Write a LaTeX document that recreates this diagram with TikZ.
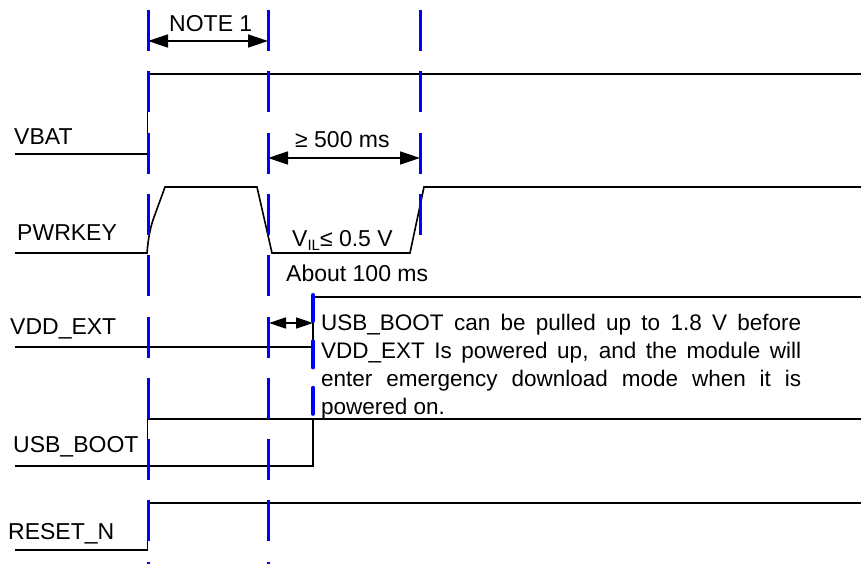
\documentclass[tikz,border=0pt]{standalone}
\usepackage{fontspec}
\setmainfont{Liberation Sans}
\usetikzlibrary{arrows.meta}
\tikzset{
  sig/.style={line width=1.6pt, black, line join=miter},
  guide/.style={blue, line width=3pt, dash pattern=on 41pt off 20.3pt},
  guidethick/.style={blue, line width=3.6pt, line cap=round, dash pattern=on 26.4pt off 20pt},
  dim/.style={line width=1.6pt, {Triangle[length=20pt,width=13pt]}-{Triangle[length=20pt,width=13pt]}},
  dimsmall/.style={line width=1.6pt, {Triangle[length=17pt,width=11pt]}-{Triangle[length=17pt,width=11pt]}},
  lbl/.style={anchor=base west, inner sep=0pt, font=\fontsize{23}{27}\selectfont},
}
\begin{document}
\begin{tikzpicture}[x=1pt,y=-1pt]
\fill[white] (0,0) rectangle (861,564);
\useasboundingbox (0,0) rectangle (861,564);

% signal labels
\node[lbl] (vbat) at (14,145) {VBAT};
\node[lbl] (pwrkey) at (17,240) {PWRKEY};
\node[lbl] (vddext) at (10,334) {VDD\_EXT};
\node[lbl] (usbboot) at (13,452) {USB\_BOOT};
\node[lbl] (resetn) at (8,539) {RESET\_N};

% timing labels
\node[lbl] (note1) at (169,32) {NOTE 1};
\node[lbl] (t500) at (295,148) {≥ 500 ms};
\node[lbl] (vil) at (292,246) {V\raisebox{-4pt}{\fontsize{15}{15}\selectfont IL}≤ 0.5 V};
\node[lbl] (about) at (286,281) {About 100 ms};
\node[lbl, font=\fontsize{22.5}{28}\selectfont] (remark) at (321,330)
  {\vtop{\hbox to 480pt{USB\_BOOT can be pulled up to 1.8 V before}
         \hbox to 480pt{VDD\_EXT Is powered up, and the module will}
         \hbox to 480pt{enter emergency download mode when it is}
         \hbox{powered on.}}};

% waveforms
\draw[sig] (15,154) -- (147.5,154) -- (147.5,74) -- (861,74);
\draw[sig] (15,253) -- (147,253) .. controls (148,240) and (150,229) .. (153,220) -- (165,187) -- (257,187) -- (272,253) -- (410,253) -- (424,187) -- (861,187);
\draw[sig] (15,347) -- (313,347) -- (313,297) -- (861,297);
\draw[sig] (15,466) -- (313,466) -- (313,419) -- (861,419);
\draw[sig] (147.5,466) -- (147.5,419) -- (313,419);
\draw[sig] (15,550) -- (147.5,550) -- (147.5,503) -- (861,503);

% guide lines
\draw[guide] (148,10) -- (148,566);
\draw[guide] (268,10) -- (268,566);
\draw[guide] (420,10) -- (420,235);
\draw[guidethick] (313,294.8) -- (313,414);

% dimension arrows
\coordinate (n1a) at (148,41);
\coordinate (n1b) at (268,41);
\draw[dim] (n1a) -- (n1b);
\coordinate (t5a) at (268,158);
\coordinate (t5b) at (420,158);
\draw[dim] (t5a) -- (t5b);
\coordinate (aba) at (269,323);
\coordinate (abb) at (313,323);
\draw[dimsmall] (aba) -- (abb);
\end{tikzpicture}
\end{document}
